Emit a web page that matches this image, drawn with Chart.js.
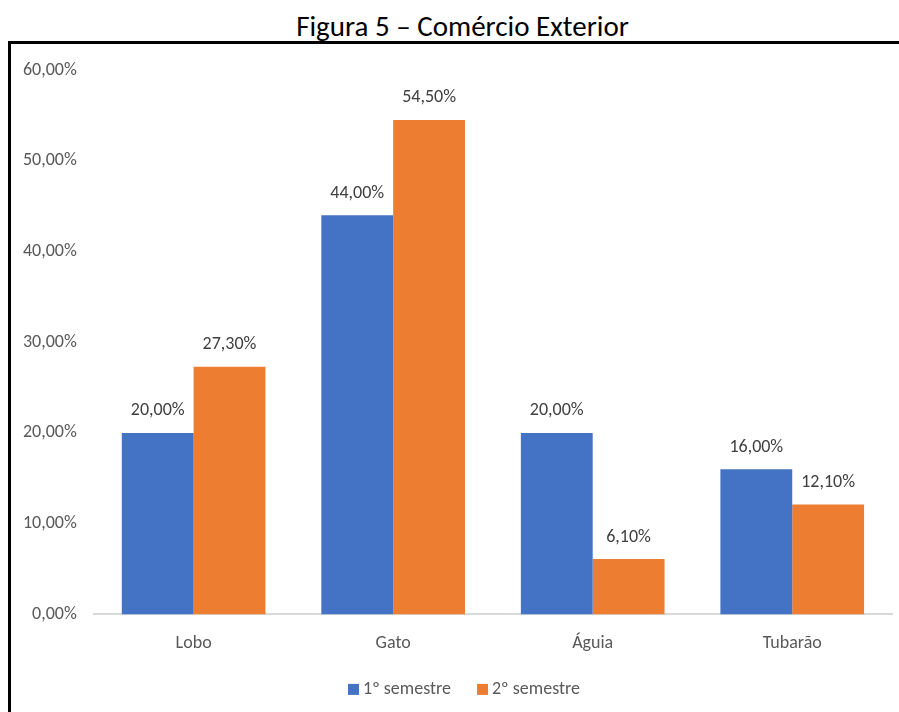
<!DOCTYPE html>
<html>
<head>
<meta charset="utf-8">
<script src="https://cdn.jsdelivr.net/npm/chart.js@4"></script>
<style>
  body { margin: 0; background: #fff; overflow: hidden; }
  #titulo {
    position: absolute; left: 0; top: 8px; width: 925px; text-align: center;
    font-family: Carlito, "Liberation Sans Narrow", "Noto Sans", sans-serif;
    font-size: 29px; font-weight: normal; color: #000;
  }
  #moldura {
    position: absolute; left: 8px; top: 41px; width: 920px; height: 700px;
    border: 3px solid #000; box-sizing: border-box;
  }
  #grafico { position: absolute; left: 0; top: 0; }
</style>
</head>
<body>
<div id="titulo">Figura 5 – Comércio Exterior</div>
<div id="moldura"></div>
<canvas id="grafico" width="899" height="712"></canvas>
<script>
// categorias e valores (%)
const categorias = ['Lobo', 'Gato', 'Águia', 'Tubarão'];
const semestre1 = [20.0, 44.0, 20.0, 16.0];
const semestre2 = [27.3, 54.5, 6.1, 12.1];
const nomesSeries = ['1º semestre', '2º semestre'];

const fonte = 'Carlito, "Liberation Sans Narrow", "Noto Sans", sans-serif';

function pct(v) {
  return v.toFixed(2).replace('.', ',') + '%';
}

// rótulos de valor em cima das barras
const rotulos = {
  id: 'rotulos',
  afterDatasetsDraw(chart) {
    const ctx = chart.ctx;
    ctx.save();
    ctx.font = '18px ' + fonte;
    ctx.fillStyle = '#404040';
    ctx.textAlign = 'center';
    ctx.textBaseline = 'middle';
    chart.data.datasets.forEach((ds, i) => {
      chart.getDatasetMeta(i).data.forEach((bar, j) => {
        ctx.fillText(pct(ds.data[j]), bar.x, bar.y - 22);
      });
    });
    ctx.restore();
  }
};

// legenda embaixo, centrada na moldura (não no eixo)
const legenda = {
  id: 'legenda',
  afterDraw(chart) {
    const ctx = chart.ctx;
    const lado = 11, folgaTexto = 4, folgaItem = 26;
    const centro = 464;
    const y = chart.chartArea.bottom + 75;
    ctx.save();
    ctx.font = '18px ' + fonte;
    ctx.textBaseline = 'middle';
    const itens = chart.data.datasets.map(ds => ({
      texto: ds.label,
      cor: ds.backgroundColor,
      largura: lado + folgaTexto + ctx.measureText(ds.label).width
    }));
    const total = itens.reduce((s, it) => s + it.largura, 0) + folgaItem * (itens.length - 1);
    let x = centro - total / 2;
    itens.forEach(it => {
      ctx.fillStyle = it.cor;
      ctx.fillRect(x, y - lado / 2, lado, lado);
      ctx.fillStyle = '#595959';
      ctx.fillText(it.texto, x + lado + folgaTexto, y);
      x += it.largura + folgaItem;
    });
    ctx.restore();
  }
};

new Chart(document.getElementById('grafico'), {
  type: 'bar',
  data: {
    labels: categorias,
    datasets: [
      { label: nomesSeries[0], data: semestre1, backgroundColor: '#4472C4' },
      { label: nomesSeries[1], data: semestre2, backgroundColor: '#ED7D31' }
    ]
  },
  options: {
    responsive: false,
    animation: false,
    layout: { padding: { left: 14, right: 7, top: 70, bottom: 48 } },
    datasets: { bar: { barPercentage: 1, categoryPercentage: 0.72 } },
    scales: {
      x: {
        grid: { display: false },
        border: { color: '#d9d9d9', width: 2 },
        ticks: { color: '#595959', font: { family: fonte, size: 18 }, padding: 10 }
      },
      y: {
        min: 0, max: 60,
        grid: { display: false },
        border: { display: false },
        ticks: {
          stepSize: 10, color: '#595959', padding: 9,
          font: { family: fonte, size: 18 },
          callback: v => pct(v)
        }
      }
    },
    plugins: {
      legend: { display: false },
      tooltip: { enabled: false }
    }
  },
  plugins: [rotulos, legenda]
});
</script>
</body>
</html>
